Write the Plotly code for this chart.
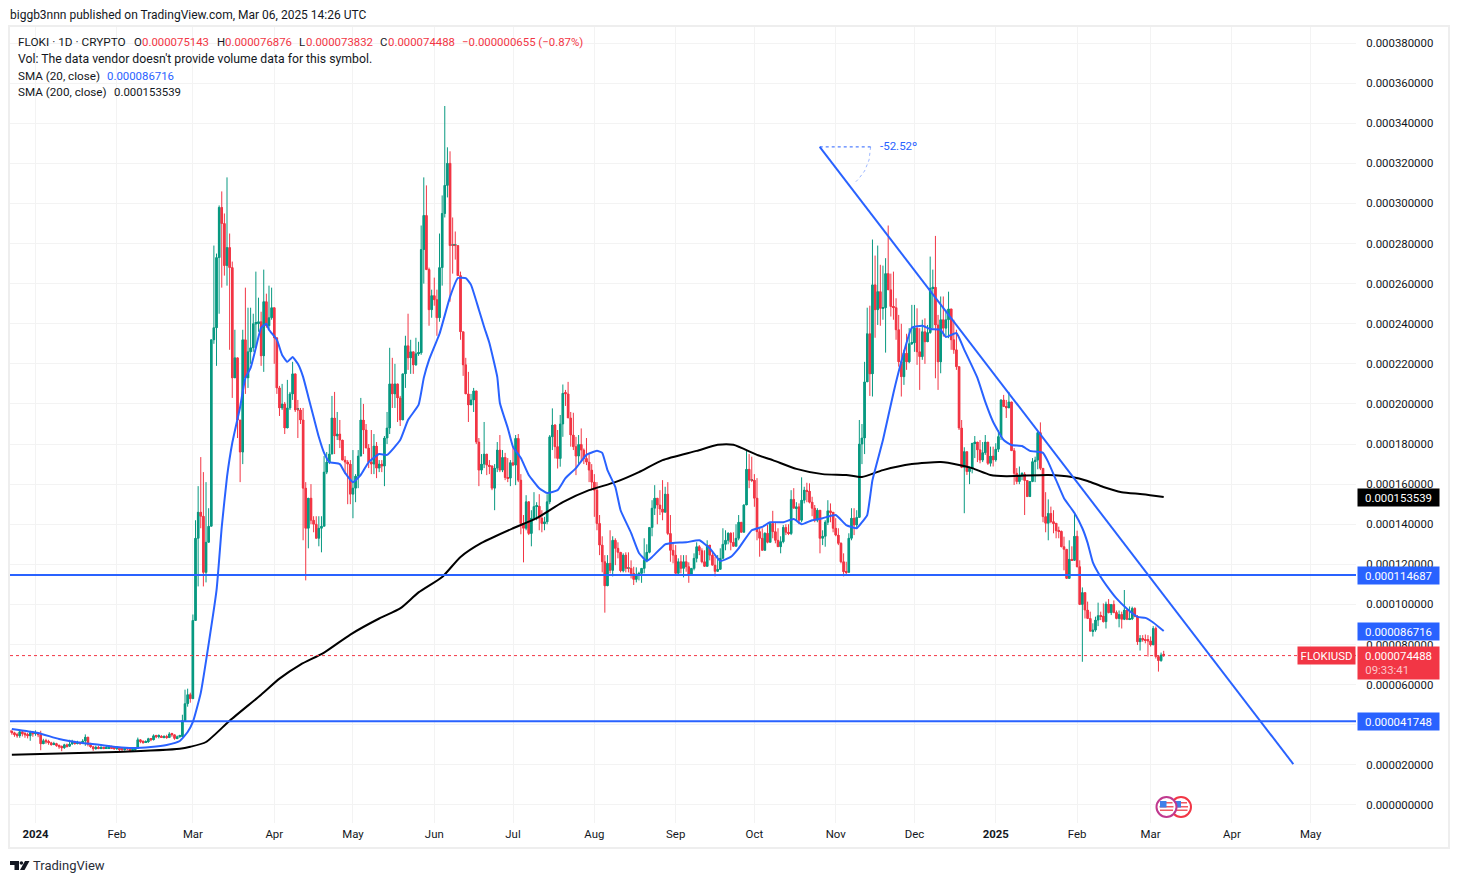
import numpy as np
import pandas as pd
import plotly.graph_objects as go

W, H = 1459, 883
FONT = "Roboto"
GREEN, RED, BLUE = "#089981", "#f23645", "#2962ff"
TXT = "#131722"
NUM = 11.4

# all prices below in millionths of a dollar
closes = [
36.6,36.0,35.0,34.5,36.5,35.5,35.0,34.5,36.0,35.5,
36.0,35.0,30.5,32.0,31.5,31.0,30.2,30.6,29.6,29.0,
28.5,30.0,29.3,30.4,31.6,30.8,31.0,30.6,31.9,33.8,
30.2,29.0,28.0,28.8,28.2,28.7,28.2,28.4,29.2,28.4,
28.0,28.4,27.7,27.6,28.1,28.0,27.4,27.5,28.3,32.5,
31.8,31.2,31.4,33.0,32.5,34.5,34.0,34.3,33.8,34.0,
33.6,35.4,35.0,33.2,34.0,34.1,42.0,50.5,55.0,53.0,92.0,
133,146,144,116,131,139,232,238,273,298,
290,269,278,268,213,223,192,176,232,213,
226,228,240,240,241,224,251,239,243,248,
233,208,198,200,188,198,205,215,197,197,
192,158,138,153,142,140,133,138,139,166,
171,175,193,184,185,182,172,171,170,155,
158,164,174,192,187,178,171,
170,179,168,170,169,183,188,210,205,210,
203,192,215,229,223,226,219.5,225,225.5,277,
294,267,247,254,252,243,268,295,309,320,
279,279,279,264,236,219.5,205,199.5,202,206.5,
181,167,170,175,169.5,169,158,168,177,167,
173.3,163.3,163,170.7,169.5,182.8,162,140.4,138,151.2,
135.4,143,148.8,149,143,140.4,141.2,151.2,183.6,189.5,
178.7,172.8,190,205.3,205,193,184.5,178.7,174,179.8,
177,172.8,171,167,161,157,140.4,
129.6,121.3,109.3,120.5,117,132,128,126,116.8,124.6,
118,118,115.5,112.5,115,115.5,118,122,126,138.4,
148,153,149.6,147.6,146,155,135.4,127,124.6,115.5,
121.3,118,121.3,118.8,114.6,118,123,128.8,126.8,121.3,
119,129.6,124.6,119.6,116.5,117.5,123,130,132,135.5,
131,129,133,141,136,149.6,167.4,162,162,153,
136.3,133,127,135.5,131,140.4,136.3,132,128.8,131.3,
138.4,136,135.4,152.4,148,148.7,142,152,157,156.5,
151,148,142,147,133,134,141,146.7,146,138,
134.6,130.5,121.3,116.3,116,133,143,139.6,143.4,
180,183,211,235,215,259.4,247,256,247.7,248,
265,256.9,248.6,248,237,221,213.6,225.3,221,230,
230.5,237.8,226,223.6,236,231,235.6,257.7,258.2,239.4,
221,242,237.8,242,247.4,232,227,218.6,188,168.4,
176.2,166.3,167.9,180.4,181,177.1,172,175.7,181,170.4,
174,172.1,177.4,183.7,202,198.7,198,201,176.7,165.4,
161.3,164.6,165,161.8,153.8,
161.3,171.2,172,185.7,167.9,143.8,140.5,145.4,141.3,140.5,
136.8,136.5,128.8,127.5,113,122.5,122,134,118.8,100,
105.9,97.2,93,86.7,87.2,92.2,94.4,94.2,91.4,100.2,
95.9,100,96,93,95,92.6,97.2,92.6,92.8,98,
94,81.4,83,82.3,82,81.8,79.8,88,74,72,
74.8,74.488,
]
highs = [
38,37.5,36.5,36,37.5,37.2,36.5,36,37,36.5,
37.2,36.2,37,33,33,32.5,31.5,31.5,31,30.2,
29.7,30.5,30.6,32.5,32.5,32,32,31.6,32.8,35.2,
34,31,29.5,29.6,29.5,29.3,29,29.4,29.8,29.5,
29,29.2,28.8,28.4,28.6,28.6,28.3,28.1,28.6,33.6,
32.8,32.2,32.2,33.5,33.4,35.2,35,35.2,34.8,34.8,
35,36.3,36,35,34.6,35,45,57.5,58,56,95,
142,159,173.5,166,161,148,232,279,275,299,
306,295,313,285,271,237,223,192,237,258,
248,248,245,266,253,246,267,255,259,258,
248,233,209,210,201,212,206,221,215,202,
198,198,161,153,160,144,144,144,144,174,
176,180,204,206,196,192,182,174,172,172,
177,165,177,203,200,190,180,
187,185,181,172,172,184,196,228,223,220,
209,204,215,234,245,232,225,233,231,289,
313,309,268,257,263,257,285,304,348.6,328,
326,293,286,279,266,236,223,216,205,208,
206.5,183,175,191,175,172,169.5,170,181,184.5,
177,175.6,173,172,179,184.5,185,165,144.6,154.5,
151.5,147,156,151,155,147,143.7,155,184.5,197.8,
190,187,194.5,209.7,207,211,196,195.6,183.6,184.5,
187.8,177.8,183,175,170,165,161,
144.6,134,124.6,124.6,137,134,133,131,126,125.5,
126,126,122,118.8,118.5,116.3,118,133,130,138.6,
152,159.5,153,157,162,158.7,161,144.6,130.5,129.6,
123,124.6,124.6,124.6,121,118,125.5,131,129.6,128,
127,132,129,126,123.8,124.6,128,138,137,136,
136,136,140,144.6,141,150,177,175,173.7,165,
163,138,138,136,139.6,141,146.7,141,138,134,
139.6,140,140,157,158,151,150.4,163.4,158.7,160.7,
160.4,153.7,149.6,148,147,137,142,152,150.4,146,
143,138,131,125.5,121.3,135.5,148,148,147,
192,190,221,248,249,282,274,279,269.4,269,
272.7,289,265,266,252.7,244.4,240,227,235,237.8,
249.4,249.4,247.7,237.8,242,242.7,239.4,273.5,267,283.8,
244.4,253.6,253.6,247,256,247,242,237,218.6,192,
178.4,176,168.8,180.4,184,181,182,181,184.5,181,
178.7,178.7,180.4,187,202.3,204.5,202,206,201,178,
168,168.8,166,166,162,
161.3,173,173.7,186,190.8,168,156,152.4,148.8,147,
140.5,138.8,136.8,133.8,127.5,132,129,145.4,136.8,122,
108.5,105.9,101.4,96.4,90.6,93.9,100.9,96.4,100.5,101.4,
102.7,100,102,97,97,96.4,107.2,97.6,99,98.9,
98.6,94.7,84.7,84.7,85,84.7,84,89.2,89,74.8,
76,76.876,
]
lows = [
35.8,35,34,33.5,33.5,34.2,33.5,33.2,32,34,
34.5,33.8,27.3,30.5,30.5,30,29.5,29.8,29,28,
26.8,28,28.6,29,30,30,30.2,30,30.4,29.5,
29.2,28.5,27,27.6,27.8,27.8,27.8,27.9,28,28,
27.6,27.5,26.9,27,27.1,27.3,26.6,26.8,27,28,
30.8,30.5,31,31,31.8,32.2,33.3,33.2,33.4,33.2,
33,33.5,34,32.5,32.8,33.6,35.5,41.5,49,51,53,
92,109,138,109,111,131,139,230,219,245,
258,264,259,227,203,213,183,161,170,205,
208,220,226,228,236,219,216,238,237,242,
220,205,194,197,185,188,197,202,196,183,
190,132,112,128,140,136,133,129,126,139,
165,170,175,175,182,178,172,165,150,150,
143,151,158,174,175,178,168,
165,165,163,166,166,159,180,185,198,198,
191,189,192,208,217,215,215,219,224,224.5,
260,267,239,243,249,234,241,259,293,303,
251,265,272,264,232,214,205,191,199.5,196,
180,159,165,168,164.5,165,157,147,166,166,
166,162,161,159,169,159.5,161,135,121,137,
134.6,129,142,142,137,136,137,140,150,177,
172.8,167.8,168.7,183.6,199,193,178.7,177,164.5,169.5,
171,170,169.5,161,157,143.7,137,
124.6,116,95.9,109.3,115.5,114,119.6,123,116,116,
116,116,113,109.7,111,112,110.8,115.5,121,125.5,
134,144.6,140,144.6,142,146,134.6,121.3,120.5,114.6,
115.5,115.5,113.5,116.3,110.8,114.6,117,121,124.6,120.5,
119.6,123.8,122,119.6,114,117,121,127,127,130,
127,129,129,132,136,136,149.6,158,161,148.7,
132,123.8,127,127,130.5,131.3,133,130.5,128.8,125.5,
130.5,134.6,134.6,134.6,148,142,140,141,150.4,151,
150.4,144,141,141,125.5,129.6,128.8,139.6,141,136,
134,129.6,120.5,114,114.6,116.3,132,134.6,138,
145,170,175,211,204,203.7,233,239.4,239,242,
225.6,257,243.6,242,232,218.6,203.7,209.5,217,220.3,
229.4,226,219.5,207,222,220,231,235,237.8,212.8,
207,215.3,233.6,233.6,232.8,227,225,217,187,168,
145.5,164.6,160,165.4,173,171,170.4,171,174.6,169.6,
168.8,168.8,171.2,176,182,198.7,193,198,176.7,159.6,
160,160,162,144.6,153.8,
154,161,161,167.4,167,141,136,132,140.5,135.5,
133,133,128.5,117,112.7,113,122,122.5,118.5,99.7,
71.4,93,92.7,86.4,84,86.4,89.2,92.2,91,88,
95.6,94.7,95.6,92.6,88.6,88,92.2,92.2,92.2,92.2,
93.6,79.8,77,81.4,80.6,74,79,79.8,73,66.5,
71.4,73.832,
]

sma20_days = [-9,1,9,18,25,31,37,44,50,55,58,60,63,69,71,73,75,78,80,82,84,86,88,89,92,94,96,98,100,102,104,106,108,110,112,116,118,121,124,127,131,134,139,142,146,148,150,154,158,161,164,166,169,171,173,176,177,180,182,185,188,192,195,199,202,206,210,214,216,218,221,223,227,230,233,235,240,243,248,253,257,261,265,268,273,277,280,285,289,292,296,300,305,309,313,315,317,319,323,327,330,334,338,341,345,347,351,354,359,362,365,369,372,376,379,384,386,389,392,396,399,401,403,406,409,412,416,420,423,426,430]
sma20_vals = [37.9,35.9,32.9,30.9,29.9,28.9,28.4,28.9,29.9,31.9,36.4,41.4,55.9,107,138.7,163.6,180.5,198.5,213,218,228,238,240,237,232,224.4,221,223.4,220,213.5,203.5,193.5,183.5,175.6,171,170,165.6,161,164.6,171,175,174.6,182,192,199.5,213,222,235,253.4,262.8,262.8,259.4,247,238.4,230.4,213.5,200.5,188,178.6,173,164.6,158,155.6,157,163,168,174.6,176.6,175.6,167,158.6,147,135.7,125.7,121.7,123.7,130,130.7,131,132,128,121.7,123.7,128,137,138.7,141,141,142.6,140,142,143,144.6,139.6,138,141,144.6,162,182,205.5,221,238,239,237.4,237,233.4,235.4,227,213,201,191,182,179.5,179,176.6,175.6,171,162,153,145.6,138,130.7,121,113.7,108,103,97.8,93.8,93.3,91,86.716]
sma200_days = [-9,31,55,59,65,74,86,93,101,110,120,131,139,146,155,162,170,182,191,201,211,221,230,239,252,260,266,275,281,290,300,309,315,323,334,345,352,357,364,370,386,395,401,407,414,422,430]
sma200_vals = [25,26.4,28,29,31.4,42,55,63,70,76,85,93,98,106,113.7,123.7,130.7,138,143,151,157,161,166,172,176.6,179.6,179.6,174.6,172,167.6,165,164.6,163.6,167,170,171,169.6,168,164.6,164,164.6,163.6,161.6,158.6,156,155,153.539]

trend_days = [298.9,479.4]
trend_vals = [328.2,20.4]
angle_flat_days = [298.9,318.3]
angle_flat_vals = [328.2,328.2]
angle_arc_days = [318.3,317.7,316,313.7,311.8]
angle_arc_vals = [328.2,321.7,316.2,312.2,309.7]

levels = [114.687,41.748]
last_price = 74.488
sma20_last = 86.716
sma200_last = 153.539
y_ticks = [i*20 for i in range(20)]
x_tick_dates = ["2024-01-01","2024-02-01","2024-03-01","2024-04-01","2024-05-01","2024-06-01","2024-07-01","2024-08-01","2024-09-01","2024-10-01","2024-11-01","2024-12-01","2025-01-01","2025-02-01","2025-03-01","2025-04-01","2025-05-01"]
x_tick_text = ["<b>2024</b>","Feb","Mar","Apr","May","Jun","Jul","Aug","Sep","Oct","Nov","Dec","<b>2025</b>","Feb","Mar","Apr","May"]

U = 1e-6
E = np.array
day0 = pd.Timestamp("2024-01-01")
def dts(days):
    return [day0 + pd.Timedelta(days=float(d)) for d in days]

c = E(closes, float)
h = E(highs, float)
l = E(lows, float)
o = np.r_[37.0, c[:-1]]
o[-1] = 75.143
h2 = np.maximum.reduce([h, o, c])
l2 = np.minimum.reduce([l, o, c])
dates = pd.date_range(end="2025-03-06", periods=len(c))
body_low = np.minimum(o, c)
body_span = np.maximum(np.abs(c - o), 0.5)
body_colors = [GREEN if a >= b else RED for a, b in zip(c, o)]

L, R, T, B = 10, 1356, 27, 823
def px(x): return (x - L) / (R - L)
def py(y): return (B - y) / (B - T)

fig = go.Figure()
fig.add_trace(go.Bar(x=dates, y=body_span*U, base=body_low*U, width=0.95*86400000,
    marker=dict(color=body_colors, line=dict(width=0)), showlegend=False, hoverinfo="skip"))
fig.add_trace(go.Candlestick(
    x=dates, open=o*U, high=h2*U, low=l2*U, close=c*U, whiskerwidth=0,
    increasing=dict(line=dict(color=GREEN, width=1), fillcolor=GREEN),
    decreasing=dict(line=dict(color=RED, width=1), fillcolor=RED),
    showlegend=False, hoverinfo="skip"))
fig.add_trace(go.Scatter(x=dts(sma200_days), y=E(sma200_vals)*U, mode="lines",
    line=dict(color="#000000", width=2, shape="spline", smoothing=0.6), showlegend=False, hoverinfo="skip"))
fig.add_trace(go.Scatter(x=dts(sma20_days), y=E(sma20_vals)*U, mode="lines",
    line=dict(color=BLUE, width=2, shape="spline", smoothing=0.4), showlegend=False, hoverinfo="skip"))
fig.add_trace(go.Scatter(x=dts(trend_days), y=E(trend_vals)*U, mode="lines",
    line=dict(color=BLUE, width=2), showlegend=False, hoverinfo="skip"))
fig.add_trace(go.Scatter(x=dts(angle_flat_days), y=E(angle_flat_vals)*U, mode="lines",
    line=dict(color=BLUE, width=1, dash="dot"), showlegend=False, hoverinfo="skip"))
fig.add_trace(go.Scatter(x=dts(angle_arc_days), y=E(angle_arc_vals)*U, mode="lines",
    line=dict(color="rgba(41,98,255,0.45)", width=1, dash="dot"), showlegend=False, hoverinfo="skip"))

shapes = []
for v in levels:
    shapes.append(dict(type="line", xref="x domain", x0=0, x1=1, yref="y", y0=v*U, y1=v*U,
                       line=dict(color=BLUE, width=2)))
shapes.append(dict(type="line", xref="x domain", x0=0, x1=1, yref="y", y0=last_price*U, y1=last_price*U,
                   line=dict(color=RED, width=1, dash="dot")))
shapes.append(dict(type="rect", xref="paper", yref="paper", x0=px(9), x1=px(1449), y0=py(848), y1=py(26),
                   line=dict(color="#eeeeee", width=2), layer="below"))
# flag badges
def rect(x0, x1, y0, y1, col):
    return dict(type="rect", xref="paper", yref="paper", x0=px(x0), x1=px(x1), y0=py(y1), y1=py(y0),
                fillcolor=col, line=dict(width=0))
for cx, cy, r, ring in [(1181, 807, 10, RED), (1166.5, 807, 10, "#c0398f")]:
    shapes.append(dict(type="circle", xref="paper", yref="paper", x0=px(cx-r), x1=px(cx+r), y0=py(cy+r), y1=py(cy-r),
                       fillcolor="white", line=dict(color=ring, width=2)))
    shapes.append(rect(cx-6, cx+6, cy-5, cy-3.5, "#ef5a62"))
    shapes.append(rect(cx-7, cx+7, cy-1, cy+0.5, "#ef5a62"))
    shapes.append(rect(cx-6.5, cx+6.5, cy+2.5, cy+4, "#ef5a62"))
    shapes.append(rect(cx-6.5, cx, cy-6, cy+0.5, "#3f7fe8"))
# TradingView mark
def poly(pts):
    return "M " + " L ".join(f"{px(a):.5f},{py(b):.5f}" for a, b in pts) + " Z"
shapes.append(dict(type="path", xref="paper", yref="paper", fillcolor="#131722", line=dict(width=0),
                   path=poly([(10,861),(19,861),(19,870),(14.5,870),(14.5,865),(10,865)])))
shapes.append(dict(type="circle", xref="paper", yref="paper", x0=px(19.6), x1=px(23.2), y0=py(864.8), y1=py(861.2),
                   fillcolor="#131722", line=dict(width=0)))
shapes.append(dict(type="path", xref="paper", yref="paper", fillcolor="#131722", line=dict(width=0),
                   path=poly([(25,861),(29.5,861),(24.5,870),(20,870)])))

ann = []
def text(x, y, s, color=TXT, size=12, anchor="left"):
    ann.append(dict(xref="paper", yref="paper", x=px(x), y=py(y), text=s, showarrow=False,
                    xanchor=anchor, yanchor="middle", font=dict(family=FONT, size=size, color=color),
                    borderpad=0))
text(9, 15, "biggb3nnn published on TradingView.com, Mar 06, 2025 14:26 UTC")
text(17, 42, "FLOKI · 1D · CRYPTO", size=11.8)
text(133, 42, "O", size=NUM)
text(141, 42, "0.000075143", RED, NUM)
text(216, 42, "H", size=NUM)
text(224, 42, "0.000076876", RED, NUM)
text(298, 42, "L", size=NUM)
text(305, 42, "0.000073832", RED, NUM)
text(379, 42, "C", size=NUM)
text(387, 42, "0.000074488", RED, NUM)
text(461, 42, "−0.000000655 (−0.87%)", RED, NUM)
text(17, 59, "Vol: The data vendor doesn't provide volume data for this symbol.", size=12.25)
text(17, 76, "SMA (20, close)", size=11.7)
text(106, 76, "0.000086716", BLUE, NUM)
text(17, 92, "SMA (200, close)", size=11.7)
text(113, 92, "0.000153539", size=NUM)
text(879, 146, "-52.52º", BLUE, 11.5)
text(32, 865, "TradingView", "#2a2e39", 13)

def pill(value, s, bg, height=13, x=1398.5, width=77, align="center"):
    ann.append(dict(xref="paper", yref="y", x=px(x), y=value*U, text=s, showarrow=False,
                    xanchor="center", yanchor="middle", bgcolor=bg, width=width, height=height,
                    borderpad=2, align=align, font=dict(family=FONT, size=NUM, color="white")))
fmt = lambda v: f"{v*U:.9f}"
pill(sma200_last, fmt(sma200_last), "#000000")
pill(levels[0], fmt(levels[0]), BLUE)
pill(sma20_last, fmt(sma20_last), BLUE)
pill(levels[1], fmt(levels[1]), BLUE)
pill(last_price-3.8, fmt(last_price) + "<br><span style='color:#fbc4c9'>09:33:41" + "&nbsp;"*8 + "</span>", RED, height=28)
pill(last_price, "FLOKIUSD", RED, x=1326.5, width=53)

fig.update_layout(
    width=W, height=H, autosize=False, paper_bgcolor="white", plot_bgcolor="white",
    margin=dict(l=L, r=W-R, t=T, b=H-B), barmode="overlay",
    font=dict(family=FONT, size=12, color=TXT),
    shapes=shapes, annotations=ann, hovermode=False,
    xaxis=dict(type="date", range=["2023-12-22 07:00","2025-05-18 07:00"], rangeslider=dict(visible=False),
               tickmode="array", tickvals=x_tick_dates, ticktext=x_tick_text, ticklabelstandoff=3,
               showgrid=True, gridcolor="#f3f3f3", gridwidth=1, zeroline=False, showline=False,
               ticks="", tickfont=dict(family=FONT, size=NUM, color=TXT)),
    yaxis=dict(side="right", range=[-9*U, 388*U], tickmode="array", tickvals=[v*U for v in y_ticks],
               ticktext=[fmt(v) for v in y_ticks],
               showgrid=True, gridcolor="#f3f3f3", gridwidth=1, zeroline=False, showline=False,
               ticks="outside", ticklen=7, tickcolor="white", tickfont=dict(family=FONT, size=NUM, color=TXT)),
)
fig.write_html("out.html", config=dict(displayModeBar=False),
               post_script="document.body.style.margin='0';document.body.style.overflow='hidden';")
